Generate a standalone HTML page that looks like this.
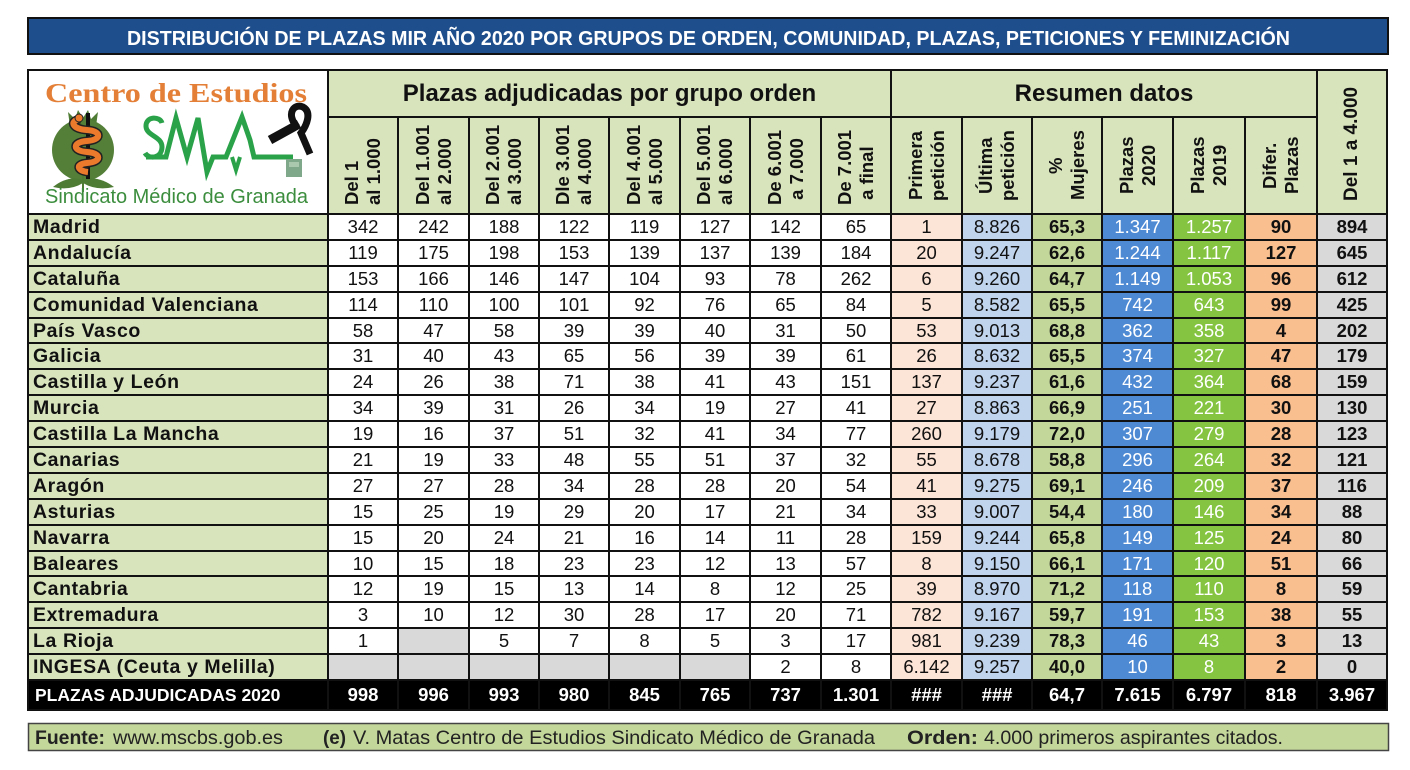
<!DOCTYPE html>
<html><head><meta charset="utf-8">
<style>
html,body{margin:0;padding:0;background:#fff;}
body{width:1410px;height:770px;position:relative;overflow:hidden;font-family:"Liberation Sans",Arial,sans-serif;color:#111;}
.g{position:absolute;left:27px;top:69px;width:1361px;box-sizing:border-box;padding:2px;background:#111;display:grid;gap:2px;
grid-template-columns:298px 68px 69px 68px 68px 69px 68px 69px 68px 69px 68px 68px 69px 70px 70px 68px;
grid-template-rows:45px 95px repeat(18,23.9px) 28px;}
.g>div{overflow:hidden;white-space:nowrap;}
.h1{background:#D8E4BC;font-weight:bold;font-size:24px;display:flex;align-items:center;justify-content:center;}
.hc{background:#D8E4BC;display:flex;justify-content:center;align-items:stretch;}
.v{writing-mode:vertical-rl;transform:rotate(180deg);font-weight:bold;font-size:18.5px;line-height:22px;padding:8px 0;text-align:start;box-sizing:border-box;}
.v.c{text-align:center;padding:0;}
.v.big{font-size:19px;line-height:22px;padding:0 0 4px 0;}
.n{background:#D8E4BC;font-weight:bold;font-size:19.5px;letter-spacing:0.6px;padding-left:4px;line-height:24px;}
.d{background:#fff;font-size:18.5px;line-height:24px;text-align:center;}
.gr{background:#D9D9D9;}
.p1{background:#FCE4D6;font-size:18.5px;line-height:24px;text-align:center;}
.p2{background:#C0D4EE;font-size:18.5px;line-height:24px;text-align:center;}
.mu{background:#C4D79B;font-size:18.5px;line-height:24px;text-align:center;font-weight:bold;}
.pa{background:#4E8AD4;color:#fff;font-size:18.5px;line-height:24px;text-align:center;}
.pb{background:#84C441;color:#fff;font-size:18.5px;line-height:24px;text-align:center;}
.df{background:#FABF8F;font-size:18.5px;line-height:24px;text-align:center;font-weight:bold;}
.to{background:#D9D9D9;font-size:18.5px;line-height:24px;text-align:center;font-weight:bold;}
.t{background:#000;color:#fff;font-weight:bold;font-size:18.5px;line-height:28px;text-align:center;}
.tn{background:#000;color:#fff;font-weight:bold;font-size:17.5px;line-height:28px;padding-left:6px;}
svg.ov{position:absolute;left:0;top:0;}
</style></head><body>

<div class="g">
<div style="grid-row:span 2;background:#fff"></div>
<div class="h1" style="grid-column:span 8">Plazas adjudicadas por grupo orden</div>
<div class="h1" style="grid-column:span 6">Resumen datos</div>
<div class="hc" style="grid-row:span 2"><div class="v c big">Del 1 a 4.000</div></div>

<div class="hc"><div class="v">Del 1<br>al 1.000</div></div>
<div class="hc"><div class="v">Del 1.001<br>al 2.000</div></div>
<div class="hc"><div class="v">Del 2.001<br>al 3.000</div></div>
<div class="hc"><div class="v">Dle 3.001<br>al 4.000</div></div>
<div class="hc"><div class="v">Del 4.001<br>al 5.000</div></div>
<div class="hc"><div class="v">Del 5.001<br>al 6.000</div></div>
<div class="hc"><div class="v">De 6.001<br>&nbsp;a 7.000</div></div>
<div class="hc"><div class="v">De 7.001<br>&nbsp;a final</div></div>
<div class="hc"><div class="v c">Primera<br>petición</div></div>
<div class="hc"><div class="v c">Última<br>petición</div></div>
<div class="hc"><div class="v c">%<br>Mujeres</div></div>
<div class="hc"><div class="v c">Plazas<br>2020</div></div>
<div class="hc"><div class="v c">Plazas<br>2019</div></div>
<div class="hc"><div class="v c">Difer.<br>Plazas</div></div>

<div class="n">Madrid</div><div class="d">342</div><div class="d">242</div><div class="d">188</div><div class="d">122</div><div class="d">119</div><div class="d">127</div><div class="d">142</div><div class="d">65</div><div class="p1">1</div><div class="p2">8.826</div><div class="mu">65,3</div><div class="pa">1.347</div><div class="pb">1.257</div><div class="df">90</div><div class="to">894</div>

<div class="n">Andalucía</div><div class="d">119</div><div class="d">175</div><div class="d">198</div><div class="d">153</div><div class="d">139</div><div class="d">137</div><div class="d">139</div><div class="d">184</div><div class="p1">20</div><div class="p2">9.247</div><div class="mu">62,6</div><div class="pa">1.244</div><div class="pb">1.117</div><div class="df">127</div><div class="to">645</div>

<div class="n">Cataluña</div><div class="d">153</div><div class="d">166</div><div class="d">146</div><div class="d">147</div><div class="d">104</div><div class="d">93</div><div class="d">78</div><div class="d">262</div><div class="p1">6</div><div class="p2">9.260</div><div class="mu">64,7</div><div class="pa">1.149</div><div class="pb">1.053</div><div class="df">96</div><div class="to">612</div>

<div class="n">Comunidad Valenciana</div><div class="d">114</div><div class="d">110</div><div class="d">100</div><div class="d">101</div><div class="d">92</div><div class="d">76</div><div class="d">65</div><div class="d">84</div><div class="p1">5</div><div class="p2">8.582</div><div class="mu">65,5</div><div class="pa">742</div><div class="pb">643</div><div class="df">99</div><div class="to">425</div>

<div class="n">País Vasco</div><div class="d">58</div><div class="d">47</div><div class="d">58</div><div class="d">39</div><div class="d">39</div><div class="d">40</div><div class="d">31</div><div class="d">50</div><div class="p1">53</div><div class="p2">9.013</div><div class="mu">68,8</div><div class="pa">362</div><div class="pb">358</div><div class="df">4</div><div class="to">202</div>

<div class="n">Galicia</div><div class="d">31</div><div class="d">40</div><div class="d">43</div><div class="d">65</div><div class="d">56</div><div class="d">39</div><div class="d">39</div><div class="d">61</div><div class="p1">26</div><div class="p2">8.632</div><div class="mu">65,5</div><div class="pa">374</div><div class="pb">327</div><div class="df">47</div><div class="to">179</div>

<div class="n">Castilla y León</div><div class="d">24</div><div class="d">26</div><div class="d">38</div><div class="d">71</div><div class="d">38</div><div class="d">41</div><div class="d">43</div><div class="d">151</div><div class="p1">137</div><div class="p2">9.237</div><div class="mu">61,6</div><div class="pa">432</div><div class="pb">364</div><div class="df">68</div><div class="to">159</div>

<div class="n">Murcia</div><div class="d">34</div><div class="d">39</div><div class="d">31</div><div class="d">26</div><div class="d">34</div><div class="d">19</div><div class="d">27</div><div class="d">41</div><div class="p1">27</div><div class="p2">8.863</div><div class="mu">66,9</div><div class="pa">251</div><div class="pb">221</div><div class="df">30</div><div class="to">130</div>

<div class="n">Castilla La Mancha</div><div class="d">19</div><div class="d">16</div><div class="d">37</div><div class="d">51</div><div class="d">32</div><div class="d">41</div><div class="d">34</div><div class="d">77</div><div class="p1">260</div><div class="p2">9.179</div><div class="mu">72,0</div><div class="pa">307</div><div class="pb">279</div><div class="df">28</div><div class="to">123</div>

<div class="n">Canarias</div><div class="d">21</div><div class="d">19</div><div class="d">33</div><div class="d">48</div><div class="d">55</div><div class="d">51</div><div class="d">37</div><div class="d">32</div><div class="p1">55</div><div class="p2">8.678</div><div class="mu">58,8</div><div class="pa">296</div><div class="pb">264</div><div class="df">32</div><div class="to">121</div>

<div class="n">Aragón</div><div class="d">27</div><div class="d">27</div><div class="d">28</div><div class="d">34</div><div class="d">28</div><div class="d">28</div><div class="d">20</div><div class="d">54</div><div class="p1">41</div><div class="p2">9.275</div><div class="mu">69,1</div><div class="pa">246</div><div class="pb">209</div><div class="df">37</div><div class="to">116</div>

<div class="n">Asturias</div><div class="d">15</div><div class="d">25</div><div class="d">19</div><div class="d">29</div><div class="d">20</div><div class="d">17</div><div class="d">21</div><div class="d">34</div><div class="p1">33</div><div class="p2">9.007</div><div class="mu">54,4</div><div class="pa">180</div><div class="pb">146</div><div class="df">34</div><div class="to">88</div>

<div class="n">Navarra</div><div class="d">15</div><div class="d">20</div><div class="d">24</div><div class="d">21</div><div class="d">16</div><div class="d">14</div><div class="d">11</div><div class="d">28</div><div class="p1">159</div><div class="p2">9.244</div><div class="mu">65,8</div><div class="pa">149</div><div class="pb">125</div><div class="df">24</div><div class="to">80</div>

<div class="n">Baleares</div><div class="d">10</div><div class="d">15</div><div class="d">18</div><div class="d">23</div><div class="d">23</div><div class="d">12</div><div class="d">13</div><div class="d">57</div><div class="p1">8</div><div class="p2">9.150</div><div class="mu">66,1</div><div class="pa">171</div><div class="pb">120</div><div class="df">51</div><div class="to">66</div>

<div class="n">Cantabria</div><div class="d">12</div><div class="d">19</div><div class="d">15</div><div class="d">13</div><div class="d">14</div><div class="d">8</div><div class="d">12</div><div class="d">25</div><div class="p1">39</div><div class="p2">8.970</div><div class="mu">71,2</div><div class="pa">118</div><div class="pb">110</div><div class="df">8</div><div class="to">59</div>

<div class="n">Extremadura</div><div class="d">3</div><div class="d">10</div><div class="d">12</div><div class="d">30</div><div class="d">28</div><div class="d">17</div><div class="d">20</div><div class="d">71</div><div class="p1">782</div><div class="p2">9.167</div><div class="mu">59,7</div><div class="pa">191</div><div class="pb">153</div><div class="df">38</div><div class="to">55</div>

<div class="n">La Rioja</div><div class="d">1</div><div class="d gr"></div><div class="d">5</div><div class="d">7</div><div class="d">8</div><div class="d">5</div><div class="d">3</div><div class="d">17</div><div class="p1">981</div><div class="p2">9.239</div><div class="mu">78,3</div><div class="pa">46</div><div class="pb">43</div><div class="df">3</div><div class="to">13</div>

<div class="n">INGESA (Ceuta y Melilla)</div><div class="d gr"></div><div class="d gr"></div><div class="d gr"></div><div class="d gr"></div><div class="d gr"></div><div class="d gr"></div><div class="d">2</div><div class="d">8</div><div class="p1">6.142</div><div class="p2">9.257</div><div class="mu">40,0</div><div class="pa">10</div><div class="pb">8</div><div class="df">2</div><div class="to">0</div>

<div class="tn">PLAZAS ADJUDICADAS 2020</div><div class="t">998</div><div class="t">996</div><div class="t">993</div><div class="t">980</div><div class="t">845</div><div class="t">765</div><div class="t">737</div><div class="t">1.301</div><div class="t">###</div><div class="t">###</div><div class="t">64,7</div><div class="t">7.615</div><div class="t">6.797</div><div class="t">818</div><div class="t">3.967</div>
</div>

<svg class="ov" width="1410" height="770" viewBox="0 0 1410 770">
  <!-- title bar -->
  <rect x="28" y="18" width="1360" height="36" fill="#1F4E8C" stroke="#111" stroke-width="2"/>
  <text x="127" y="45" font-family="Liberation Sans, sans-serif" font-weight="bold" font-size="20" fill="#fff" textLength="1163" lengthAdjust="spacingAndGlyphs">DISTRIBUCIÓN DE PLAZAS MIR AÑO 2020 POR GRUPOS DE ORDEN, COMUNIDAD, PLAZAS, PETICIONES Y FEMINIZACIÓN</text>

  <!-- logo -->
  <text x="45" y="102" font-family="Liberation Serif, serif" font-weight="bold" font-size="27" fill="#E37F36" textLength="262" lengthAdjust="spacingAndGlyphs">Centro de Estudios</text>
  <path d="M70,126 L68,112 L75,119 L78,110 L83,118 L88,110 L91,119 L98,112 L96,126 Z" fill="#4E7C34"/>
  <ellipse cx="83" cy="150" rx="31" ry="31" fill="#537F38"/>
  <path d="M83,180 Q68,175 53,187 Q70,191 83,183 Z" fill="#4E7C34"/>
  <path d="M83,180 Q98,175 114,187 Q96,191 83,183 Z" fill="#4E7C34"/>
  <line x1="83" y1="176" x2="83" y2="192" stroke="#4E7C34" stroke-width="2"/>
  <rect x="86" y="113" width="4" height="66" fill="#111"/>
  <path d="M80,119 C69,121 72,129 87,130 C102,131 102,140 87,141 C72,142 72,151 87,152 C102,153 102,162 87,163 C75,164 77,171 88,172" stroke="#222" stroke-width="9" fill="none"/>
  <path d="M80,119 C69,121 72,129 87,130 C102,131 102,140 87,141 C72,142 72,151 87,152 C102,153 102,162 87,163 C75,164 77,171 88,172" stroke="#EC7A2C" stroke-width="6" fill="none"/>
  <circle cx="79" cy="118" r="4" fill="#EC7A2C" stroke="#222" stroke-width="1"/>

  <path d="M162,123 C160,116 146,116 146,126 C146,136 162,136 162,147 C162,158 149,160 145,153" stroke="#2AA24A" stroke-width="5" fill="none"/>
  <polyline points="146,157 166,157 176,118 187,157 198,118 207,172 213,157 226,157 242,117 250,140 254,157 293,157" stroke="#2AA24A" stroke-width="5" fill="none" stroke-linejoin="miter"/>
  <polyline points="232,157 236,170 240,157" stroke="#2AA24A" stroke-width="4" fill="none"/>

  <path d="M297,127 C285,113 295,103 303,107 C312,112 307,125 301,133 L310,154" stroke="#111" stroke-width="7" fill="none"/>
  <path d="M299,124 L270,140" stroke="#111" stroke-width="9" fill="none"/>
  <rect x="286" y="159" width="16" height="18" fill="#7FA88A"/>
  <rect x="289" y="162" width="10" height="5" fill="#A9C8AE"/>

  <text x="45" y="203" font-family="Liberation Sans, sans-serif" font-size="20" fill="#3C8E3E" textLength="263" lengthAdjust="spacingAndGlyphs">Sindicato Médico de Granada</text>

  <!-- footer -->
  <rect x="28.5" y="723.5" width="1360" height="27" fill="#C4D79B" stroke="#444" stroke-width="1.5"/>
  <g font-family="Liberation Sans, sans-serif" font-size="19.5" fill="#222">
    <text x="35" y="744" font-weight="bold" textLength="70" lengthAdjust="spacingAndGlyphs">Fuente:</text>
    <text x="113" y="744" textLength="170" lengthAdjust="spacingAndGlyphs">www.mscbs.gob.es</text>
    <text x="323" y="744" font-weight="bold" textLength="23" lengthAdjust="spacingAndGlyphs">(e)</text>
    <text x="353" y="744" textLength="522" lengthAdjust="spacingAndGlyphs">V. Matas Centro de Estudios Sindicato Médico de Granada</text>
    <text x="907" y="744" font-weight="bold" textLength="71" lengthAdjust="spacingAndGlyphs">Orden:</text>
    <text x="984" y="744" textLength="299" lengthAdjust="spacingAndGlyphs">4.000 primeros aspirantes citados.</text>
  </g>
</svg>
</body></html>
